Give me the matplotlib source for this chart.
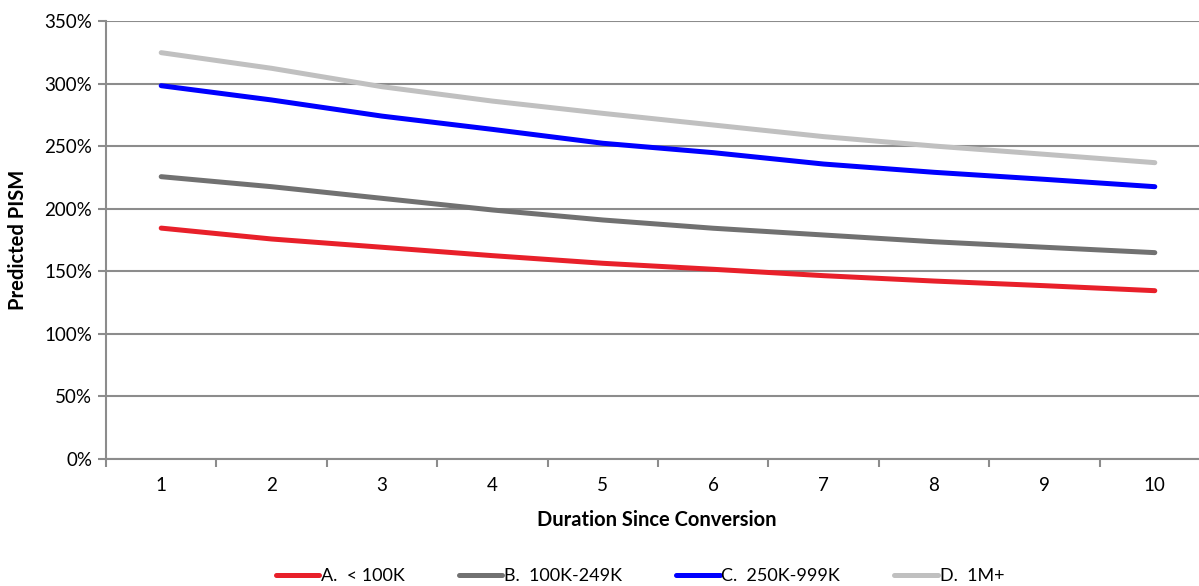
import matplotlib.pyplot as plt
from matplotlib.ticker import PercentFormatter, FixedLocator

# Predicted PISM by years since conversion, per size band
duration = [1, 2, 3, 4, 5, 6, 7, 8, 9, 10]
pism_a = [184.5, 175.8, 169.2, 162.5, 156.4, 151.6, 146.5, 142.2, 138.5, 134.5]
pism_b = [225.6, 217.6, 208.3, 199.0, 191.0, 184.4, 179.0, 173.6, 169.2, 164.9]
pism_c = [298.3, 286.9, 274.0, 263.4, 252.3, 244.8, 235.7, 229.1, 223.5, 217.6]
pism_d = [324.7, 312.2, 297.5, 286.0, 276.2, 266.9, 257.6, 250.1, 243.5, 236.8]

labels = ["A.  < 100K", "B.  100K-249K", "C.  250K-999K", "D.  1M+"]
colors = ["#E8202A", "#717171", "#0000FF", "#C0C0C0"]

plt.rcParams['font.family'] = ['Lato', 'DejaVu Sans']
grid_col = '#8C8C8C'

fig = plt.figure(figsize=(11.99, 5.86), dpi=100)
ax = fig.add_axes([106 / 1199, 1 - 459 / 586, 1104 / 1199, 438 / 586])

for vals, lab, col in zip([pism_a, pism_b, pism_c, pism_d], labels, colors):
    ax.plot(duration, vals, color=col, lw=3.6, solid_capstyle='round', label=lab)

ax.set_xlim(0.5, 10.5)
ax.set_ylim(0, 350)
ax.set_yticks(range(0, 351, 50))
ax.yaxis.set_major_formatter(PercentFormatter(decimals=0))
ax.set_xticks(duration)
ax.xaxis.set_minor_locator(FixedLocator([d - 0.5 for d in duration] + [10.5]))
ax.tick_params(axis='x', which='major', length=0, pad=13, labelsize=13.5)
ax.tick_params(axis='x', which='minor', length=6, width=1.5, color=grid_col)
ax.tick_params(axis='y', length=6, width=1.5, color=grid_col, labelsize=13.5, pad=4)

ax.grid(axis='y', color=grid_col, lw=1.5)
ax.set_axisbelow(True)
for side in ['top', 'right']:
    ax.spines[side].set_visible(False)
for side in ['left', 'bottom']:
    ax.spines[side].set_color(grid_col)
    ax.spines[side].set_linewidth(1.5)

fig.text(18 / 1199, 1 - 240 / 586, 'Predicted PISM', rotation=90, ha='center',
         va='center', fontsize=14.5, fontweight='bold')
fig.text(657 / 1199, 1 - 520 / 586, 'Duration Since Conversion', ha='center',
         va='center', fontsize=14.5, fontweight='bold')

fig.legend(loc='center', bbox_to_anchor=(640 / 1199, 1 - 576 / 586), ncol=4,
           frameon=False, fontsize=13, handlelength=2.4, handletextpad=0.1,
           columnspacing=3.0)

fig.savefig('out.png', dpi=100)
